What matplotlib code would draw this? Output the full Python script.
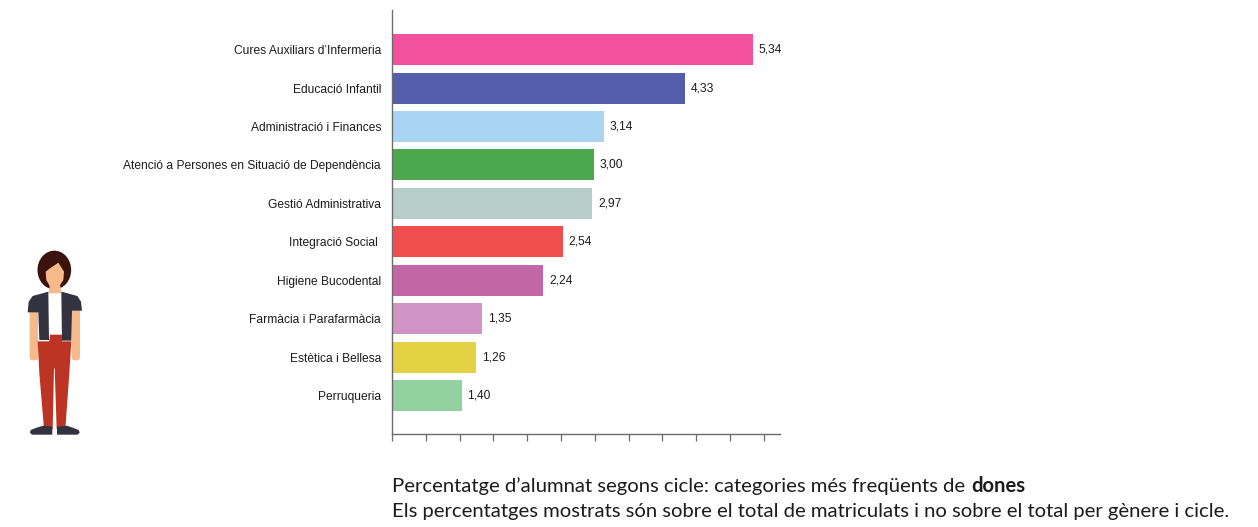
import matplotlib

matplotlib.use("Agg")

import matplotlib.pyplot as plt
from matplotlib.patches import Ellipse, FancyBboxPatch, Polygon

WIDTH, HEIGHT = 1258, 527

categories = [
    "Cures Auxiliars d’Infermeria",
    "Educació Infantil",
    "Administració i Finances",
    "Atenció a Persones en Situació de Dependència",
    "Gestió Administrativa",
    "Integració Social ",
    "Higiene Bucodental",
    "Farmàcia i Parafarmàcia",
    "Estètica i Bellesa",
    "Perruqueria",
]
# the drawn bars do not always agree with the printed figures (Perruqueria), so keep both
bar_lengths = [5.34, 4.33, 3.13, 2.99, 2.96, 2.53, 2.24, 1.33, 1.24, 1.03]
printed_values = ["5,34", "4,33", "3,14", "3,00", "2,97", "2,54", "2,24", "1,35", "1,26", "1,40"]
bar_colors = [
    "#f1519d", "#545eaa", "#a9d4f3", "#4ca84f", "#b6cdc9",
    "#f24e50", "#c266a8", "#d095c6", "#e3d244", "#93d2a0",
]
x_ticks = [0, 0.5, 1, 1.5, 2, 2.5, 3, 3.5, 4, 4.5, 5, 5.5]


def pixel_axes(fig, left, top, width, height):
    return fig.add_axes([left / WIDTH, 1 - (top + height) / HEIGHT, width / WIDTH, height / HEIGHT])


def draw_person(ax):
    # coordinates are in 3x pixels of the small illustration
    ax.set_xlim(0, 330)
    ax.set_ylim(630, 0)
    ax.axis("off")
    skin = "#f6b98a"
    hair = "#3c130c"
    jacket = "#33323f"
    trousers = "#bc3423"
    # hair
    ax.add_patch(Ellipse((163, 90), 101, 116, color=hair, lw=0))
    # arms
    ax.add_patch(FancyBboxPatch((89, 205), 25, 156, boxstyle="round,pad=0,rounding_size=10", color=skin, lw=0))
    ax.add_patch(FancyBboxPatch((215, 205), 25, 156, boxstyle="round,pad=0,rounding_size=10", color=skin, lw=0))
    # neck and face
    ax.add_patch(Polygon([(150, 130), (180, 130), (184, 160), (146, 160)], color=skin, lw=0))
    ax.add_patch(Polygon([(137, 95), (150, 85), (175, 68), (192, 95), (190, 120), (175, 143),
                          (152, 143), (139, 120)], color=skin, lw=0))
    # shirt
    ax.add_patch(Polygon([(148, 190), (184, 190), (184, 285), (148, 285)], color="white", lw=0))
    # jacket
    ax.add_patch(Polygon([(145, 155), (120, 162), (98, 168), (86, 185), (83, 217), (115, 217), (118, 300),
                          (147, 300)], color=jacket, lw=0))
    ax.add_patch(Polygon([(184, 155), (210, 162), (232, 168), (243, 185), (246, 212), (216, 212), (214, 302),
                          (186, 302)], color=jacket, lw=0))
    # trousers
    ax.add_patch(Polygon([(150, 284), (186, 284), (186, 304), (214, 304), (208, 400), (196, 567),
                          (170, 567), (164, 385), (162, 385), (158, 567), (132, 567), (118, 400),
                          (113, 304), (148, 304)], color=trousers, lw=0))
    # shoes
    ax.add_patch(Polygon([(90, 578), (92, 570), (110, 563), (130, 557), (157, 560), (157, 584), (96, 584)],
                         color=jacket, lw=0))
    ax.add_patch(Polygon([(239, 578), (236, 570), (218, 563), (200, 557), (171, 560), (171, 584), (233, 584)],
                         color=jacket, lw=0))


fig = plt.figure(figsize=(WIDTH / 100, HEIGHT / 100), dpi=100)

ax = pixel_axes(fig, 392, 10, 388, 424)
positions = list(range(len(categories)))
ax.barh(positions, bar_lengths, height=0.806, color=bar_colors)
ax.set_xlim(0, 5.74)
ax.set_ylim(10.0, -1.03)
for spine in ["top", "right"]:
    ax.spines[spine].set_visible(False)
for spine in ["left", "bottom"]:
    ax.spines[spine].set_color("#6b6b6b")
    ax.spines[spine].set_linewidth(1.0)
ax.set_xticks(x_ticks)
ax.set_xticklabels([])
ax.tick_params(axis="x", length=5, width=0.9, color="#6b6b6b")
ax.set_yticks(positions)
ax.set_yticklabels(categories, family="Liberation Sans", fontsize=8.65, color="#1c1c1c")
ax.tick_params(axis="y", length=0, pad=8)

for pos, length, label in zip(positions, bar_lengths, printed_values):
    ax.annotate(label, (length, pos), xytext=(4.2, 0), textcoords="offset points", va="center",
                family="Liberation Sans", fontsize=8.65, color="#1c1c1c")

draw_person(pixel_axes(fig, 0, 240, 110, 210))

caption = {"family": "Lato", "fontsize": 14.58, "color": "#1c1c1c", "va": "center"}
t = fig.text(392 / WIDTH, 1 - 486 / HEIGHT, "Percentatge d’alumnat segons cicle: categories més freqüents de", **caption)
fig.canvas.draw()
box = t.get_window_extent()
fig.text((box.x1 + 6) / WIDTH, 1 - 486 / HEIGHT, "dones", fontweight="bold", **caption)
fig.text(392 / WIDTH, 1 - 512 / HEIGHT,
         "Els percentatges mostrats són sobre el total de matriculats i no sobre el total per gènere i cicle.", **caption)

fig.savefig("out.png", dpi=100)
